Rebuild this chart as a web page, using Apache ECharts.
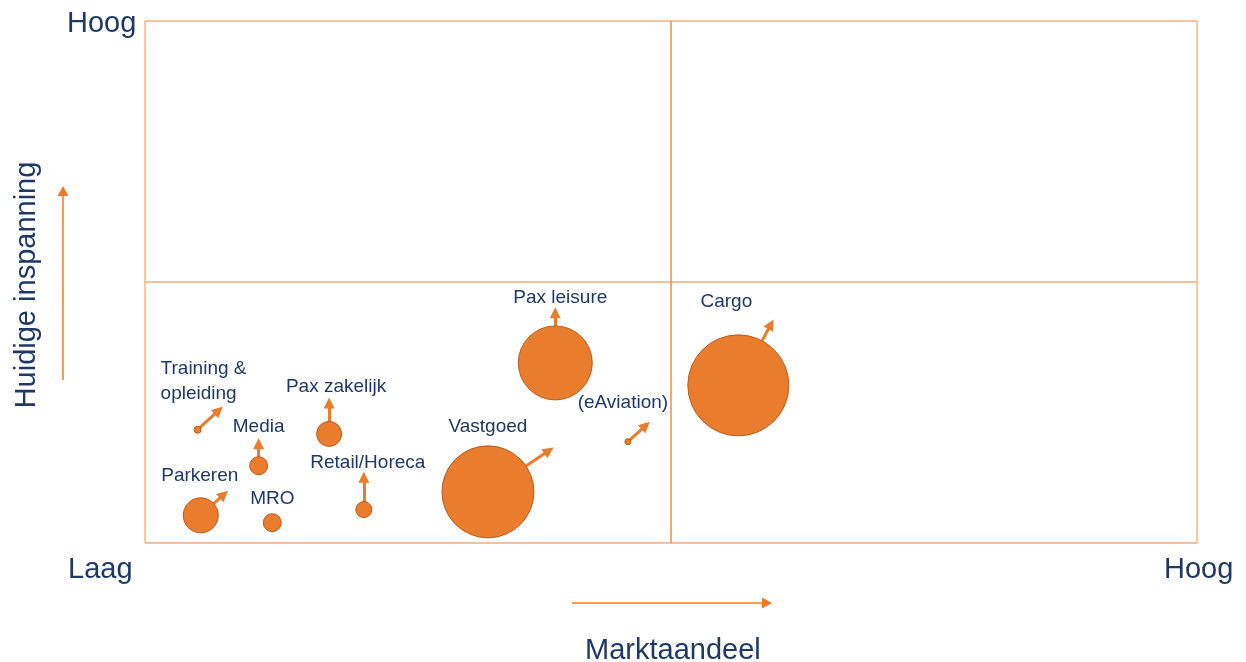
<!DOCTYPE html>
<html>
<head>
<meta charset="utf-8">
<title>Marktaandeel vs huidige inspanning</title>
<script src="https://cdn.jsdelivr.net/npm/echarts@6/dist/echarts.min.js"></script>
<style>
  html, body { margin: 0; padding: 0; background: #fff; }
  #chart { width: 1246px; height: 662px; }
</style>
</head>
<body>
<div id="chart"></div>
<script>
// segments
const names = ['Parkeren', 'MRO', 'Media', 'Training &\nopleiding', 'Pax zakelijk',
  'Retail/Horeca', 'Vastgoed', 'Pax leisure', '(eAviation)', 'Cargo']
// position 0-100 on both axes
const marktaandeel = [5.3, 12.1, 10.8, 5.0, 17.5, 20.8, 32.6, 39.0, 45.9, 56.4]
const inspanning = [5.3, 3.9, 14.8, 21.7, 20.9, 6.4, 9.8, 34.5, 19.4, 30.2]
// relative bubble size
const omvang = [35, 18, 18, 7, 25, 16, 92, 74, 6, 101]
// where the arrow points to (null = no arrow)
const trendX = [7.5, null, 10.8, 7.0, 17.5, 20.8, 38.4, 39.0, 47.6, 59.5]
const trendY = [9.3, null, 19.0, 25.4, 26.8, 12.6, 17.7, 44.1, 22.5, 41.9]
const axisLabels = ['Laag', 'Hoog']

// label placement relative to bubble centre (layout only)
const labelOffset = [[-1, -40], [0, -24], [0, -39], [-37, -48], [7, -47],
  [4, -47], [0, -65], [5, -65], [-5, -39], [-12, -84]]

const orange = '#E97C2D'
const navy = '#1F3864'
const font = 'Liberation Sans, Arial, sans-serif'

const chart = echarts.init(document.getElementById('chart'))

const bubbles = names.map((n, i) => ({
  name: n,
  value: [marktaandeel[i], inspanning[i], omvang[i]],
  label: {
    offset: labelOffset[i],
    align: i === 3 ? 'left' : 'center'
  }
}))

const arrows = []
names.forEach((n, i) => {
  if (trendX[i] == null) return
  arrows.push({ coords: [[marktaandeel[i], inspanning[i]], [trendX[i], trendY[i]]] })
})

const arrowHead = (x, y, dir) => {
  const s = 5.5
  const pts = dir === 'right'
    ? [[x, y - s], [x + 10, y], [x, y + s]]
    : [[x - s, y], [x, y - 10], [x + s, y]]
  return { type: 'polygon', shape: { points: pts }, style: { fill: orange }, silent: true }
}

const option = {
  backgroundColor: '#fff',
  animation: false,
  textStyle: { fontFamily: font },
  grid: { left: 145, top: 21, width: 1052, height: 522 },
  xAxis: {
    type: 'value', min: 0, max: 100, interval: 50,
    axisLine: { show: false },
    axisTick: { show: false },
    axisLabel: { show: false },
    splitLine: { show: true, lineStyle: { color: ['#F5B78A', '#EE8D4C', '#F5B78A'], width: 1.5 } }
  },
  yAxis: {
    type: 'value', min: 0, max: 100, interval: 50,
    axisLine: { show: false },
    axisTick: { show: false },
    axisLabel: { show: false },
    splitLine: { show: true, lineStyle: { color: '#F3AE7E', width: 1.5 } }
  },
  series: [
    {
      type: 'lines',
      coordinateSystem: 'cartesian2d',
      z: 1,
      symbol: ['none', 'triangle'],
      symbolSize: [11, 11],
      lineStyle: { color: orange, width: 3, opacity: 1 },
      itemStyle: { color: orange },
      data: arrows
    },
    {
      type: 'scatter',
      z: 2,
      data: bubbles,
      symbolSize: v => v[2],
      itemStyle: { color: orange, borderColor: '#B95C1C', borderWidth: 1, opacity: 1 },
      label: {
        show: true,
        position: 'inside',
        formatter: p => p.name,
        color: navy,
        fontSize: 19,
        lineHeight: 25,
        fontFamily: font
      }
    }
  ],
  graphic: [
    { type: 'text', left: 67, top: 9, style: { text: axisLabels[1], fill: navy, font: '29px ' + font } },
    { type: 'text', left: 68, top: 555, style: { text: axisLabels[0], fill: navy, font: '29px ' + font } },
    { type: 'text', left: 1164, top: 555, style: { text: axisLabels[1], fill: navy, font: '29px ' + font } },
    { type: 'text', left: 585, top: 636, style: { text: 'Marktaandeel', fill: navy, font: '29px ' + font } },
    {
      type: 'text', x: 27, y: 285, rotation: Math.PI / 2,
      style: { text: 'Huidige inspanning', fill: navy, font: '29px ' + font, align: 'center', verticalAlign: 'middle' }
    },
    { type: 'line', shape: { x1: 572, y1: 603, x2: 763, y2: 603 }, style: { stroke: orange, lineWidth: 1.5 }, silent: true },
    arrowHead(762, 603, 'right'),
    { type: 'line', shape: { x1: 63, y1: 380, x2: 63, y2: 196 }, style: { stroke: orange, lineWidth: 1.5 }, silent: true },
    arrowHead(63, 196, 'up')
  ]
}

chart.setOption(option)
window.addEventListener('resize', () => chart.resize())
</script>
</body>
</html>
